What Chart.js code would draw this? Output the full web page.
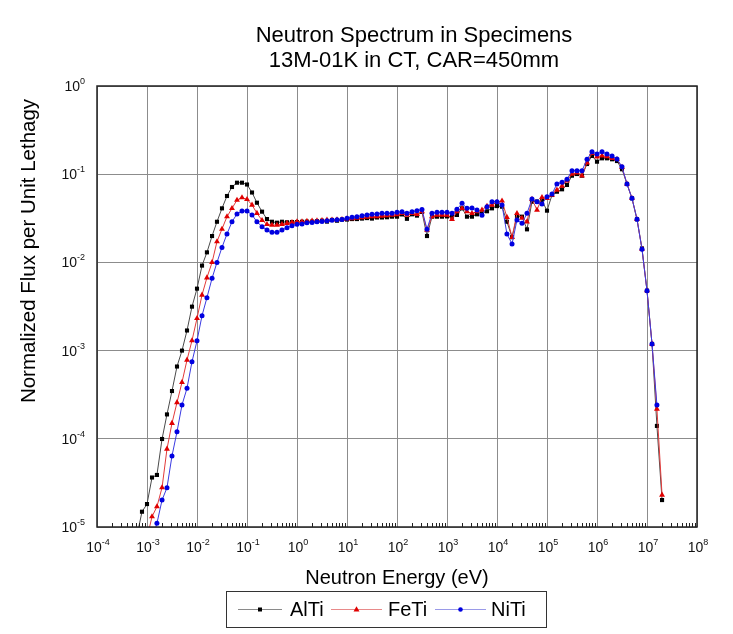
<!DOCTYPE html>
<html>
<head>
<meta charset="utf-8">
<script src="https://cdn.jsdelivr.net/npm/chart.js@4.4.1/dist/chart.umd.min.js"></script>
<style>
body { margin: 0; background: #fff; }
canvas { display: block; }
</style>
</head>
<body>
<canvas id="myChart" width="733" height="634"></canvas>
<script>
// group energies (eV), 10 per decade
var energy = [
    6.31e-4, 7.94e-4,
    1.00e-3, 1.26e-3, 1.58e-3, 2.00e-3, 2.51e-3, 3.16e-3, 3.98e-3, 5.01e-3, 6.31e-3, 7.94e-3,
    1.00e-2, 1.26e-2, 1.58e-2, 2.00e-2, 2.51e-2, 3.16e-2, 3.98e-2, 5.01e-2, 6.31e-2, 7.94e-2,
    1.00e-1, 1.26e-1, 1.58e-1, 2.00e-1, 2.51e-1, 3.16e-1, 3.98e-1, 5.01e-1, 6.31e-1, 7.94e-1,
    1.00e0, 1.26e0, 1.58e0, 2.00e0, 2.51e0, 3.16e0, 3.98e0, 5.01e0, 6.31e0, 7.94e0,
    1.00e1, 1.26e1, 1.58e1, 2.00e1, 2.51e1, 3.16e1, 3.98e1, 5.01e1, 6.31e1, 7.94e1,
    1.00e2, 1.26e2, 1.58e2, 2.00e2, 2.51e2, 3.16e2, 3.98e2, 5.01e2, 6.31e2, 7.94e2,
    1.00e3, 1.26e3, 1.58e3, 2.00e3, 2.51e3, 3.16e3, 3.98e3, 5.01e3, 6.31e3, 7.94e3,
    1.00e4, 1.26e4, 1.58e4, 2.00e4, 2.51e4, 3.16e4, 3.98e4, 5.01e4, 6.31e4, 7.94e4,
    1.00e5, 1.26e5, 1.58e5, 2.00e5, 2.51e5, 3.16e5, 3.98e5, 5.01e5, 6.31e5, 7.94e5,
    1.00e6, 1.26e6, 1.58e6, 2.00e6, 2.51e6, 3.16e6, 3.98e6, 5.01e6, 6.31e6, 7.94e6,
    1.00e7, 1.26e7, 1.58e7, 2.00e7
];

var alTi = [
    8.0e-6, 1.49e-5,
    1.82e-5, 3.64e-5, 3.89e-5, 9.95e-5, 1.89e-4, 3.48e-4, 6.6e-4, 1.0e-3, 1.69e-3, 3.15e-3,
    5.04e-3, 9.2e-3, 1.30e-2, 1.99e-2, 2.89e-2, 4.10e-2, 5.66e-2, 7.16e-2, 8.01e-2, 8.01e-2,
    7.64e-2, 6.2e-2, 4.75e-2, 3.76e-2, 3.10e-2, 2.89e-2, 2.82e-2, 2.89e-2, 2.85e-2, 2.87e-2,
    2.87e-2, 2.89e-2, 2.90e-2, 2.90e-2, 2.93e-2, 2.97e-2, 2.90e-2, 3.03e-2, 2.97e-2, 3.06e-2,
    3.06e-2, 3.10e-2, 3.10e-2, 3.14e-2, 3.18e-2, 3.14e-2, 3.23e-2, 3.23e-2, 3.25e-2, 3.30e-2,
    3.30e-2, 3.50e-2, 3.12e-2, 3.51e-2, 3.39e-2, 3.73e-2, 1.99e-2, 3.30e-2, 3.30e-2, 3.30e-2,
    3.32e-2, 3.30e-2, 3.45e-2, 4.10e-2, 3.30e-2, 3.30e-2, 3.51e-2, 3.60e-2, 3.80e-2, 4.10e-2,
    4.35e-2, 4.28e-2, 2.89e-2, 1.93e-2, 3.30e-2, 3.30e-2, 2.37e-2, 4.88e-2, 4.90e-2, 5.00e-2,
    3.86e-2, 5.81e-2, 6.33e-2, 6.74e-2, 7.55e-2, 9.62e-2, 1.005e-1, 9.62e-2, 1.305e-1, 1.61e-1,
    1.386e-1, 1.514e-1, 1.514e-1, 1.476e-1, 1.41e-1, 1.137e-1, 7.75e-2, 5.33e-2, 3.08e-2, 1.44e-2,
    4.78e-3, 1.19e-3, 1.40e-4, 2.02e-5
];

var feTi = [
    null, null,
    7.5e-6, 1.31e-5, 1.70e-5, 2.80e-5, 7.66e-5, 1.50e-4, 2.58e-4, 4.37e-4, 7.82e-4, 1.30e-3,
    2.32e-3, 4.27e-3, 6.71e-3, 1.00e-2, 1.72e-2, 2.39e-2, 3.30e-2, 4.10e-2, 5.09e-2, 5.42e-2,
    5.19e-2, 4.48e-2, 3.61e-2, 3.00e-2, 2.70e-2, 2.65e-2, 2.65e-2, 2.70e-2, 2.78e-2, 2.84e-2,
    2.89e-2, 2.90e-2, 2.93e-2, 2.96e-2, 2.97e-2, 2.99e-2, 3.03e-2, 3.04e-2, 3.06e-2, 3.08e-2,
    3.12e-2, 3.14e-2, 3.18e-2, 3.23e-2, 3.27e-2, 3.30e-2, 3.32e-2, 3.36e-2, 3.40e-2, 3.45e-2,
    3.49e-2, 3.60e-2, 3.45e-2, 3.60e-2, 3.50e-2, 3.76e-2, 2.33e-2, 3.30e-2, 3.45e-2, 3.45e-2,
    3.45e-2, 3.08e-2, 3.76e-2, 4.10e-2, 3.76e-2, 3.60e-2, 3.76e-2, 3.93e-2, 4.35e-2, 4.48e-2,
    4.80e-2, 4.98e-2, 3.25e-2, 1.93e-2, 3.60e-2, 3.18e-2, 2.89e-2, 5.20e-2, 3.93e-2, 5.46e-2,
    5.33e-2, 5.80e-2, 6.62e-2, 7.35e-2, 8.44e-2, 1.005e-1, 1.04e-1, 9.62e-2, 1.35e-1, 1.725e-1,
    1.58e-1, 1.62e-1, 1.59e-1, 1.514e-1, 1.476e-1, 1.20e-1, 7.75e-2, 5.33e-2, 3.08e-2, 1.42e-2,
    4.78e-3, 1.19e-3, 2.18e-4, 2.31e-5
];

var niTi = [
    null, null,
    null, 7.0e-6, 1.10e-5, 2.02e-5, 2.79e-5, 6.38e-5, 1.20e-4, 2.42e-4, 3.74e-4, 7.48e-4,
    1.29e-3, 2.49e-3, 3.98e-3, 6.60e-3, 1.00e-2, 1.48e-2, 2.10e-2, 2.89e-2, 3.54e-2, 3.83e-2,
    3.83e-2, 3.45e-2, 2.89e-2, 2.54e-2, 2.33e-2, 2.20e-2, 2.20e-2, 2.33e-2, 2.47e-2, 2.61e-2,
    2.70e-2, 2.72e-2, 2.82e-2, 2.84e-2, 2.89e-2, 2.90e-2, 2.97e-2, 3.00e-2, 3.05e-2, 3.07e-2,
    3.16e-2, 3.25e-2, 3.30e-2, 3.39e-2, 3.44e-2, 3.51e-2, 3.53e-2, 3.60e-2, 3.60e-2, 3.60e-2,
    3.70e-2, 3.76e-2, 3.60e-2, 3.76e-2, 3.86e-2, 3.97e-2, 2.38e-2, 3.60e-2, 3.70e-2, 3.70e-2,
    3.70e-2, 3.60e-2, 4.00e-2, 4.68e-2, 4.10e-2, 4.15e-2, 3.93e-2, 3.43e-2, 4.28e-2, 4.88e-2,
    4.88e-2, 4.48e-2, 2.10e-2, 1.62e-2, 3.03e-2, 2.77e-2, 3.60e-2, 5.24e-2, 4.88e-2, 4.59e-2,
    5.56e-2, 5.97e-2, 7.75e-2, 8.10e-2, 8.75e-2, 1.096e-1, 1.096e-1, 1.096e-1, 1.476e-1, 1.80e-1,
    1.69e-1, 1.80e-1, 1.69e-1, 1.61e-1, 1.49e-1, 1.216e-1, 7.75e-2, 5.33e-2, 3.08e-2, 1.41e-2,
    4.78e-3, 1.19e-3, 2.42e-4, null
];

var seriesNames = ['AlTi', 'FeTi', 'NiTi'];
var xTickExps = [-4, -3, -2, -1, 0, 1, 2, 3, 4, 5, 6, 7, 8];
var yTickExps = [-5, -4, -3, -2, -1, 0];

var FONT = '"Liberation Sans", Arial, sans-serif';

function pts(vals) {
    return energy.map(function (e, i) { return { x: e, y: vals[i] }; });
}

// "10" with a small raised exponent
function drawPow(ctx, exp, x, y, align) {
    ctx.font = '14px ' + FONT;
    var wb = ctx.measureText('10').width;
    ctx.font = '9px ' + FONT;
    var es = String(exp);
    var ws = ctx.measureText(es).width;
    var start = align === 'right' ? x - wb - ws : x - (wb + ws) / 2 + 1;
    ctx.textAlign = 'left';
    ctx.textBaseline = 'alphabetic';
    ctx.font = '14px ' + FONT;
    ctx.fillText('10', start, y);
    ctx.font = '9px ' + FONT;
    ctx.fillText(es, start + wb, y - 7);
}

function marker(ctx, style, x, y, color) {
    ctx.fillStyle = color;
    ctx.beginPath();
    if (style === 'rect') {
        ctx.rect(x - 2, y - 2, 4, 4);
    } else if (style === 'triangle') {
        ctx.moveTo(x, y - 3.3);
        ctx.lineTo(x + 3, y + 2);
        ctx.lineTo(x - 3, y + 2);
        ctx.closePath();
    } else {
        ctx.arc(x, y, 2.3, 0, Math.PI * 2);
    }
    ctx.fill();
}

var decor = {
    id: 'decor',
    afterDraw: function (chart) {
        var ctx = chart.ctx, a = chart.chartArea;
        var xs = chart.scales.x, ys = chart.scales.y;
        ctx.save();

        // minor ticks on the energy axis, pointing up
        ctx.strokeStyle = '#222';
        ctx.lineWidth = 1;
        for (var e = -4; e < 8; e++) {
            for (var m = 2; m <= 9; m++) {
                var px = Math.round(xs.getPixelForValue(m * Math.pow(10, e))) + 0.5;
                ctx.beginPath();
                ctx.moveTo(px, a.bottom);
                ctx.lineTo(px, a.bottom - 4);
                ctx.stroke();
            }
        }

        // frame
        ctx.strokeStyle = '#222';
        ctx.lineWidth = 1.5;
        ctx.strokeRect(a.left, a.top, a.right - a.left, a.bottom - a.top);

        // tick labels
        ctx.fillStyle = '#111';
        xTickExps.forEach(function (e) {
            drawPow(ctx, e, xs.getPixelForValue(Math.pow(10, e)), a.bottom + 25, 'center');
        });
        yTickExps.forEach(function (e) {
            drawPow(ctx, e, a.left - 12, ys.getPixelForValue(Math.pow(10, e)) + 5, 'right');
        });

        // titles
        ctx.fillStyle = '#000';
        ctx.textAlign = 'center';
        ctx.textBaseline = 'middle';
        ctx.font = '22px ' + FONT;
        ctx.fillText('Neutron Spectrum in Specimens', 414, 36);
        ctx.fillText('13M-01K in CT, CAR=450mm', 414, 61);
        ctx.font = '20px ' + FONT;
        ctx.fillText('Neutron Energy (eV)', 397, 578);
        ctx.save();
        ctx.translate(29, 251);
        ctx.rotate(-Math.PI / 2);
        ctx.font = '20.5px ' + FONT;
        ctx.fillText('Normalized Flux per Unit Lethagy', 0, 0);
        ctx.restore();

        // legend
        ctx.strokeStyle = '#333';
        ctx.lineWidth = 1;
        ctx.strokeRect(226.5, 591.5, 320, 36);
        var items = [
            { x1: 238, x2: 282, tx: 290, line: '#8a8a8a', pt: '#000', style: 'rect' },
            { x1: 331, x2: 382, tx: 388, line: '#e88a8a', pt: '#e00000', style: 'triangle' },
            { x1: 435, x2: 486, tx: 491, line: '#9a9ae8', pt: '#0000e0', style: 'circle' }
        ];
        items.forEach(function (it, i) {
            ctx.strokeStyle = it.line;
            ctx.lineWidth = 1.2;
            ctx.beginPath();
            ctx.moveTo(it.x1, 609.5);
            ctx.lineTo(it.x2, 609.5);
            ctx.stroke();
            marker(ctx, it.style, (it.x1 + it.x2) / 2, 609.5, it.pt);
            ctx.fillStyle = '#000';
            ctx.textAlign = 'left';
            ctx.textBaseline = 'middle';
            ctx.font = '20px ' + FONT;
            ctx.fillText(seriesNames[i], it.tx, 610);
        });
        ctx.restore();
    }
};

var ctx = document.getElementById('myChart').getContext('2d');
var myChart = new Chart(ctx, {
    type: 'scatter',
    data: {
        datasets: [
            {
                label: seriesNames[0],
                data: pts(alTi),
                showLine: true,
                borderColor: '#4a4a4a',
                borderWidth: 1,
                pointStyle: 'rect',
                pointRadius: 2.9,
                pointBackgroundColor: '#000',
                pointBorderWidth: 0,
                order: 3
            },
            {
                label: seriesNames[1],
                data: pts(feTi),
                showLine: true,
                borderColor: '#e23a3a',
                borderWidth: 1,
                pointStyle: 'triangle',
                pointRadius: 3.4,
                pointBackgroundColor: '#e00000',
                pointBorderWidth: 0,
                order: 2
            },
            {
                label: seriesNames[2],
                data: pts(niTi),
                showLine: true,
                borderColor: '#3a3ae2',
                borderWidth: 1,
                pointStyle: 'circle',
                pointRadius: 2.5,
                pointBackgroundColor: '#0000e0',
                pointBorderWidth: 0,
                order: 1
            }
        ]
    },
    options: {
        responsive: false,
        animation: false,
        layout: { padding: { left: 97, right: 36, top: 86, bottom: 107 } },
        plugins: {
            legend: { display: false },
            title: { display: false },
            tooltip: { enabled: false }
        },
        scales: {
            x: {
                type: 'logarithmic',
                min: 1e-4,
                max: 1e8,
                afterBuildTicks: function (s) {
                    s.ticks = xTickExps.map(function (e) { return { value: Math.pow(10, e) }; });
                },
                afterFit: function (s) { s.height = 0; },
                ticks: { display: false },
                grid: { color: '#8c8c8c', lineWidth: 1, drawTicks: false },
                border: { display: false }
            },
            y: {
                type: 'logarithmic',
                min: 1e-5,
                max: 1,
                afterBuildTicks: function (s) {
                    s.ticks = yTickExps.map(function (e) { return { value: Math.pow(10, e) }; });
                },
                afterFit: function (s) { s.width = 0; },
                ticks: { display: false },
                grid: { color: '#8c8c8c', lineWidth: 1, drawTicks: false },
                border: { display: false }
            }
        }
    },
    plugins: [decor]
});
</script>
</body>
</html>
